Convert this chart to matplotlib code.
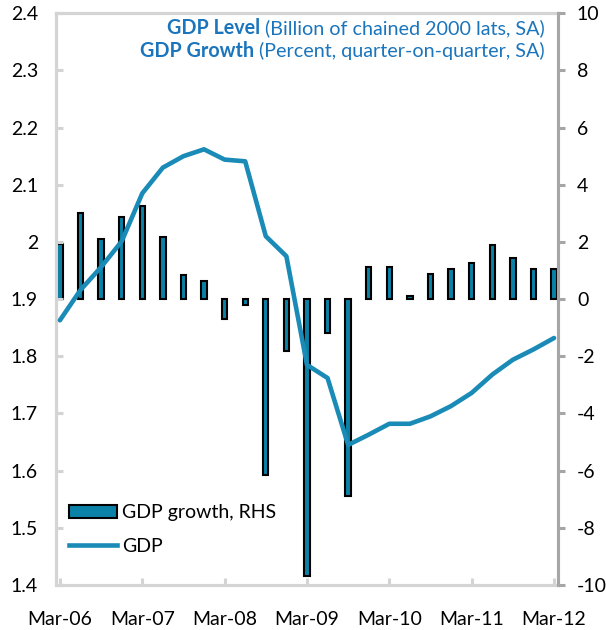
import matplotlib
matplotlib.use("Agg")
import matplotlib.pyplot as plt
from matplotlib.patches import Patch
from matplotlib.lines import Line2D
import numpy as np

plt.rcParams['font.family'] = ['Lato', 'DejaVu Sans']

# quarterly data, Mar-06 .. Mar-12
quarters = ["Mar-06", "Jun-06", "Sep-06", "Dec-06", "Mar-07", "Jun-07", "Sep-07", "Dec-07",
            "Mar-08", "Jun-08", "Sep-08", "Dec-08", "Mar-09", "Jun-09", "Sep-09", "Dec-09",
            "Mar-10", "Jun-10", "Sep-10", "Dec-10", "Mar-11", "Jun-11", "Sep-11", "Dec-11",
            "Mar-12"]
gdp_level = [1.863, 1.916, 1.956, 2.001, 2.085, 2.130, 2.150, 2.162, 2.144, 2.141,
             2.010, 1.975, 1.785, 1.762, 1.645, 1.663, 1.682, 1.682, 1.695, 1.713,
             1.736, 1.768, 1.794, 1.812, 1.832]
gdp_growth = [1.92, 3.00, 2.10, 2.87, 3.26, 2.16, 0.86, 0.63, -0.70, -0.20,
              -6.16, -1.81, -9.70, -1.17, -6.89, 1.12, 1.12, 0.12, 0.88, 1.07,
              1.25, 1.89, 1.45, 1.07, 1.07]

left_ticks = [1.4, 1.5, 1.6, 1.7, 1.8, 1.9, 2.0, 2.1, 2.2, 2.3, 2.4]
left_labels = ["1.4", "1.5", "1.6", "1.7", "1.8", "1.9", "2", "2.1", "2.2", "2.3", "2.4"]
right_ticks = [-10, -8, -6, -4, -2, 0, 2, 4, 6, 8, 10]
right_labels = ["-10", "-8", "-6", "-4", "-2", "0", "2", "4", "6", "8", "10"]

bar_col = "#0A82A8"
line_col = "#1A8BB6"
title_col = "#1B75BC"
light = "#D4D4D4"
dark = "#A6A6A6"

x = np.arange(len(quarters))

fig = plt.figure(figsize=(6.06, 6.30), dpi=100)
ax = fig.add_axes([0.0924, 0.0714, 0.8276, 0.9076])
ax2 = ax.twinx()

# growth bars on the right-hand axis
ax2.bar(x, gdp_growth, width=0.26, color=bar_col, edgecolor="black", linewidth=1.5, zorder=2)
ax2.set_ylim(-10, 10)
ax2.set_yticks(right_ticks)
ax2.set_yticklabels(right_labels)

# level line on the left axis, drawn above the bars
ax.set_zorder(ax2.get_zorder() + 1)
ax.patch.set_visible(False)
ax.plot(x, gdp_level, color=line_col, linewidth=3.3, solid_capstyle="round", zorder=3)
ax.set_ylim(1.4, 2.4)
ax.set_yticks(left_ticks)
ax.set_yticklabels(left_labels)
ax.set_xlim(-0.19, 24.17)
ax.set_xticks(x[::4])
ax.set_xticklabels(quarters[::4])

for a in (ax, ax2):
    for s in a.spines.values():
        s.set_linewidth(2.2)
        s.set_color(light)
    a.spines["right"].set_color(dark)
    a.spines["right"].set_zorder(5)

ax.tick_params(axis="y", direction="in", length=5, width=2.2, color=light,
               labelsize=14, pad=13, labelcolor="black")
ax.tick_params(axis="x", direction="in", length=5, width=2.2, color=light,
               labelsize=14, pad=19, labelcolor="black")
ax2.tick_params(axis="y", direction="out", length=5, width=2.2, color=dark,
                labelsize=14, pad=9, labelcolor="black")

# two-line heading, bold series name then plain description
heading = [("GDP Level", " (Billion of chained 2000 lats, SA)", 0.963),
           ("GDP Growth", " (Percent, quarter-on-quarter, SA)", 0.923)]
fig.canvas.draw()
renderer = fig.canvas.get_renderer()
for bold, rest, yy in heading:
    t = ax.text(0.975, yy, rest, transform=ax.transAxes, ha="right", va="baseline",
                fontsize=14.2, color=title_col)
    bb = t.get_window_extent(renderer=renderer)
    xb = ax.transAxes.inverted().transform((bb.x0, bb.y0))[0]
    ax.text(xb, yy, bold, transform=ax.transAxes, ha="right", va="baseline",
            fontsize=14.2, color=title_col, fontweight="bold")

handles = [Patch(facecolor=bar_col, edgecolor="black", linewidth=1.5),
           Line2D([0], [0], color=line_col, linewidth=3.3)]
ax.legend(handles, ["GDP growth, RHS", "GDP"], loc="upper left",
          bbox_to_anchor=(-0.008, 0.172), frameon=False, fontsize=14,
          handlelength=2.45, handleheight=0.68, handletextpad=0.25, labelspacing=0.85)

fig.savefig("out.png", dpi=100)
